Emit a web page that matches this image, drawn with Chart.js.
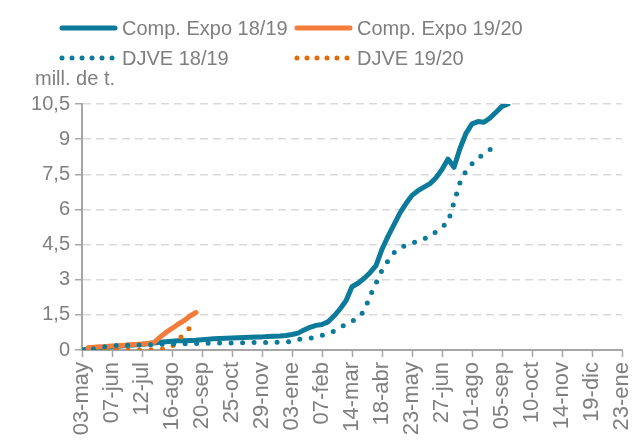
<!DOCTYPE html>
<html>
<head>
<meta charset="utf-8">
<script src="https://cdn.jsdelivr.net/npm/chart.js@4.4.1/dist/chart.umd.min.js"></script>
<style>
  html, body { margin: 0; padding: 0; background: #fff; }
  canvas { display: block; }
</style>
</head>
<body>
<canvas id="chart" width="640" height="447"></canvas>
<script>
// x axis: one tick every 35 days starting 03-may
const tickLabels = ['03-may', '07-jun', '12-jul', '16-ago', '20-sep', '25-oct', '29-nov', '03-ene', '07-feb',
    '14-mar', '18-abr', '23-may', '27-jun', '01-ago', '05-sep', '10-oct', '14-nov', '19-dic', '23-ene'];

// weekly values (mill. de t.), week 0 = 03-may
const expo1819 = [0, 0.03, 0.06, 0.09, 0.12, 0.14, 0.16, 0.18, 0.2, 0.22,
    0.24, 0.27, 0.3, 0.33, 0.35, 0.37, 0.39, 0.4, 0.41, 0.42,
    0.44, 0.46, 0.48, 0.49, 0.5, 0.51, 0.52, 0.53, 0.54, 0.55,
    0.56, 0.58, 0.59, 0.6, 0.62, 0.66, 0.72, 0.85, 0.97, 1.05,
    1.09, 1.2, 1.45, 1.75, 2.1, 2.7, 2.85, 3.05, 3.3, 3.6,
    4.3, 4.85, 5.35, 5.85, 6.25, 6.6, 6.8, 6.95, 7.1, 7.35,
    7.7, 8.15, 7.8, 8.6, 9.25, 9.65, 9.75, 9.72, 9.9, 10.15,
    10.4, 10.5];
const djve1819 = [0, 0.02, 0.05, 0.1, 0.15, 0.18, 0.2, 0.2, 0.21, 0.21,
    0.22, 0.22, 0.23, 0.24, 0.25, 0.26, 0.26, 0.27, 0.27, 0.28,
    0.28, 0.29, 0.29, 0.3, 0.3, 0.3, 0.31, 0.31, 0.31, 0.32,
    0.32, 0.32, 0.33, 0.33, 0.34, 0.38, 0.45, 0.48, 0.5, 0.55,
    0.62, 0.7, 0.8, 0.95, 1.1, 1.22, 1.4, 1.65, 2.3, 2.85,
    3.4, 3.8, 4.15, 4.35, 4.48, 4.56, 4.65, 4.75, 4.85, 5.05,
    5.25, 5.45, 6.3, 7.15, 7.65, 7.95, 8.2, 8.35, 8.55, 8.85];
const expo1920 = [null, 0.1, 0.12, 0.14, 0.15, 0.17, 0.18, 0.2, 0.22, 0.24,
    0.26, 0.28, 0.32, 0.55, 0.75, 0.92, 1.1, 1.25, 1.45, 1.6];
const djve1920 = [0, 0, 0, 0, 0, 0, 0, 0, 0, 0,
    0, 0.01, 0.02, 0.03, 0.05, 0.15, 0.42, 0.68, 0.95];

const BLUE = '#0b7a9b';
const ORANGE = '#f47c3a';
const ORANGE_DOT = '#e36c0a';
const GREY_TXT = '#7f7f7f';
const AXIS = '#a6a6a6';
const FONT = "'Liberation Sans', Arial, sans-serif";

const toPoints = arr => arr.map((v, i) => ({ x: i * 7, y: v }));

// legend + unit label drawn by hand so columns line up like the original
const legendPlugin = {
    id: 'fixedLegend',
    afterDraw(chart) {
        const ctx = chart.ctx;
        const slots = [[60, 28], [295, 28], [60, 58], [295, 58]];
        chart.data.datasets.forEach((ds, i) => {
            const [x, y] = slots[i];
            ctx.save();
            ctx.strokeStyle = ds.borderColor;
            ctx.lineWidth = ds.borderWidth;
            ctx.lineCap = 'round';
            ctx.setLineDash(ds.borderDash ? [0, 10] : []);
            ctx.beginPath();
            ctx.moveTo(x + 2, y);
            ctx.lineTo(x + 55, y);
            ctx.stroke();
            ctx.restore();

            ctx.save();
            ctx.fillStyle = GREY_TXT;
            ctx.font = `20px ${FONT}`;
            ctx.textBaseline = 'middle';
            ctx.fillText(ds.label, x + 62, y + 1);
            ctx.restore();
        });
        ctx.save();
        ctx.fillStyle = GREY_TXT;
        ctx.font = `20px ${FONT}`;
        ctx.textBaseline = 'middle';
        ctx.fillText('mill. de t.', 35, 79);
        ctx.restore();
    }
};

const ctx = document.getElementById('chart').getContext('2d');
new Chart(ctx, {
    type: 'line',
    data: {
        datasets: [
            {
                label: 'Comp. Expo 18/19',
                data: toPoints(expo1819),
                borderColor: BLUE,
                borderWidth: 5,
                order: 3
            },
            {
                label: 'Comp. Expo 19/20',
                data: toPoints(expo1920),
                borderColor: ORANGE,
                borderWidth: 5,
                order: 1
            },
            {
                label: 'DJVE 18/19',
                data: toPoints(djve1819),
                borderColor: BLUE,
                borderWidth: 5,
                borderDash: [0, 11.5],
                order: 0
            },
            {
                label: 'DJVE 19/20',
                data: toPoints(djve1920),
                borderColor: ORANGE_DOT,
                borderWidth: 5,
                borderDash: [0, 11.5],
                order: 2
            }
        ]
    },
    options: {
        responsive: false,
        animation: false,
        devicePixelRatio: 1,
        layout: { padding: { top: 104, right: 18, left: 0, bottom: 0 } },
        elements: {
            point: { radius: 0 },
            line: { tension: 0, borderCapStyle: 'round', borderJoinStyle: 'round', fill: false }
        },
        scales: {
            x: {
                type: 'linear',
                min: 0,
                max: (tickLabels.length - 1) * 35,
                afterBuildTicks: scale => {
                    scale.ticks = tickLabels.map((_, i) => ({ value: i * 35 }));
                },
                afterFit: scale => {
                    scale.height = 97;
                    scale.paddingLeft = 0;
                    scale.paddingRight = 0;
                },
                ticks: {
                    autoSkip: false,
                    minRotation: 90,
                    maxRotation: 90,
                    padding: 5,
                    color: GREY_TXT,
                    font: { family: FONT, size: 22 },
                    callback: (value) => tickLabels[Math.round(value / 35)]
                },
                grid: {
                    drawOnChartArea: false,
                    drawTicks: true,
                    tickLength: 7,
                    tickColor: AXIS,
                    tickWidth: 1.5
                },
                border: { color: AXIS, width: 2 }
            },
            y: {
                min: 0,
                max: 10.5,
                afterFit: scale => { scale.width = 82; },
                ticks: {
                    stepSize: 1.5,
                    padding: 5,
                    color: GREY_TXT,
                    font: { family: FONT, size: 20 },
                    callback: value => String(value).replace('.', ',')
                },
                grid: {
                    color: '#d9d9d9',
                    lineWidth: 1.5,
                    tickLength: 7,
                    tickColor: AXIS,
                    tickWidth: 1.5,
                    tickBorderDash: []
                },
                border: { color: AXIS, width: 2, dash: [8, 5] }
            }
        },
        plugins: {
            legend: { display: false },
            tooltip: { enabled: false }
        }
    },
    plugins: [legendPlugin]
});
</script>
</body>
</html>
